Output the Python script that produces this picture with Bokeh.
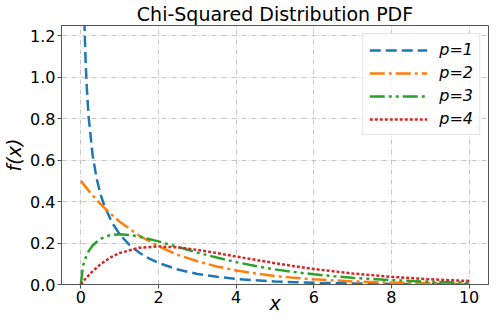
from bokeh.plotting import figure
from bokeh.models import Range1d, FixedTicker, Legend, LegendItem, NumeralTickFormatter
from bokeh.embed import file_html
from bokeh.resources import INLINE

# Values
x1 = [0.05, 0.06, 0.08, 0.1, 0.12, 0.15, 0.2, 0.3, 0.4, 0.5, 0.6, 0.8, 1.0, 1.25, 1.5, 1.75, 2.0,
      2.5, 3.0, 3.5, 4.0, 4.5, 5.0, 5.5, 6.0, 7.0, 8.0, 9.0, 10.0]
y1 = [1.740, 1.581, 1.355, 1.200, 1.085, 0.956, 0.807, 0.627, 0.516, 0.439, 0.382, 0.299, 0.242,
      0.191, 0.154, 0.126, 0.104, 0.072, 0.051, 0.037, 0.027, 0.020, 0.015, 0.011, 0.008, 0.005,
      0.003, 0.0015, 0.0009]

x2 = [0.0, 0.25, 0.5, 0.75, 1.0, 1.5, 2.0, 2.5, 3.0, 3.5, 4.0, 4.5, 5.0, 5.5, 6.0, 7.0, 8.0, 9.0, 10.0]
y2 = [0.500, 0.441, 0.389, 0.344, 0.303, 0.236, 0.184, 0.143, 0.112, 0.087, 0.068, 0.053, 0.041,
      0.032, 0.025, 0.015, 0.009, 0.006, 0.003]

x3 = [0.0, 0.05, 0.1, 0.2, 0.3, 0.5, 0.75, 1.0, 1.25, 1.5, 2.0, 2.5, 3.0, 3.5, 4.0, 4.5, 5.0, 5.5,
      6.0, 7.0, 8.0, 9.0, 10.0]
y3 = [0.0, 0.087, 0.120, 0.161, 0.188, 0.220, 0.238, 0.242, 0.239, 0.231, 0.208, 0.181, 0.154,
      0.130, 0.108, 0.089, 0.073, 0.060, 0.049, 0.032, 0.021, 0.013, 0.0085]

x4 = [0.0, 0.1, 0.25, 0.5, 0.75, 1.0, 1.5, 2.0, 2.5, 3.0, 3.5, 4.0, 4.5, 5.0, 5.5, 6.0, 7.0, 8.0,
      9.0, 10.0]
y4 = [0.0, 0.024, 0.055, 0.097, 0.129, 0.152, 0.177, 0.184, 0.179, 0.167, 0.152, 0.135, 0.119,
      0.103, 0.088, 0.075, 0.053, 0.037, 0.025, 0.017]

labels = ["p=1", "p=2", "p=3", "p=4"]
x_ticks = [0, 2, 4, 6, 8, 10]
y_ticks = [0.0, 0.2, 0.4, 0.6, 0.8, 1.0, 1.2]

colors = ["#1f77b4", "#ff7f0e", "#2ca02c", "#d62728"]
dashes = ["11 5", "15 4 3 4", "15 4 3 4 3 4", "3 2"]

p = figure(width=490, height=316, output_backend="svg", toolbar_location=None,
           x_range=Range1d(-0.5, 10.5), y_range=Range1d(0, 1.25),
           min_border_left=50, min_border_right=2, min_border_top=18, min_border_bottom=30)

p.title.text = "Chi-Squared Distribution PDF"
p.title.align = "center"
p.title.text_font = "DejaVu Sans"
p.title.text_font_size = "19px"
p.title.text_font_style = "normal"
p.title.text_color = "black"
p.title.standoff = 1
p.title.offset = 0

items = []
for xs, ys, c, d, lab in zip([x1, x2, x3, x4], [y1, y2, y3, y4], colors, dashes, labels):
    r = p.line(xs, ys, line_color=c, line_width=2.5, line_dash=d)
    items.append(LegendItem(label=lab, renderers=[r]))

legend = Legend(items=items, location="top_right")
legend.label_text_font = "DejaVu Sans"
legend.label_text_font_size = "16px"
legend.label_text_font_style = "italic"
legend.label_text_color = "black"
legend.glyph_width = 58
legend.glyph_height = 18
legend.label_standoff = 12
legend.spacing = 4
legend.padding = 6
legend.margin = 8
legend.border_line_color = "#cccccc"
legend.background_fill_alpha = 0.85
p.add_layout(legend)

p.xaxis.ticker = FixedTicker(ticks=x_ticks)
p.yaxis.ticker = FixedTicker(ticks=y_ticks)
p.yaxis.formatter = NumeralTickFormatter(format="0.0")
for ax in (p.xaxis, p.yaxis):
    ax.major_label_text_font = "DejaVu Sans"
    ax.major_label_text_font_size = "16px"
    ax.major_label_text_color = "black"
    ax.axis_label_text_font = "DejaVu Sans"
    ax.axis_label_text_font_size = "19px"
    ax.axis_label_text_font_style = "italic"
    ax.axis_label_text_color = "black"
    ax.minor_tick_line_color = None
    ax.major_tick_in = 0
    ax.major_tick_out = 4
    ax.major_tick_line_color = "#555555"
    ax.axis_line_color = "#555555"
    ax.major_label_standoff = 2
p.xaxis.axis_label_standoff = -14
p.yaxis.axis_label_standoff = 2
p.xaxis.axis_label = "x"
p.yaxis.axis_label = "f(x)"

p.grid.grid_line_color = "#b8b8b8"
p.grid.grid_line_dash = "5 2 1 2"
p.grid.grid_line_width = 0.8
p.outline_line_color = "#555555"
p.outline_line_width = 1

open("out.html", "w").write(file_html(p, INLINE))
